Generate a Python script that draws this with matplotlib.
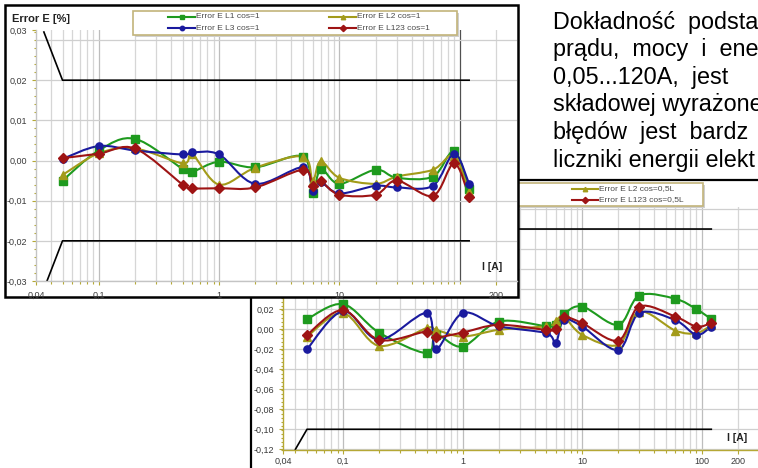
import numpy as np
import matplotlib.pyplot as plt
from matplotlib.path import Path
from matplotlib.patches import PathPatch, Rectangle
from matplotlib.lines import Line2D

plt.rcParams["font.family"] = ["Liberation Sans", "DejaVu Sans"]

W, H = 758, 468

# measurement currents [A]
current = [0.05, 0.1, 0.2, 0.5, 0.6, 1, 2, 5, 6, 7, 10, 20, 30, 60, 90, 120]

# energy error, cos=1
err_l1_cos1 = [-0.0050, 0.0025, 0.0054, -0.0021, -0.0028, -0.0003, -0.0017, 0.0010,
               -0.0082, -0.0021, -0.0058, -0.0023, -0.0043, -0.0040, 0.0023, -0.0070]
err_l2_cos1 = [-0.0036, 0.0018, 0.0030, -0.0007, 0.0015, -0.0060, -0.0018, 0.0010,
               -0.0050, -0.0002, -0.0043, -0.0058, -0.0040, -0.0023, 0.0012, -0.0079]
err_l3_cos1 = [0.0004, 0.0036, 0.0025, 0.0015, 0.0020, 0.0015, -0.0058, -0.0017,
               -0.0075, -0.0054, -0.0082, -0.0063, -0.0067, -0.0063, 0.0017, -0.0058]
err_l123_cos1 = [0.0006, 0.0017, 0.0030, -0.0060, -0.0069, -0.0069, -0.0067, -0.0023,
                 -0.0063, -0.0052, -0.0085, -0.0085, -0.0050, -0.0088, -0.0007, -0.0090]

# energy error, cos=0,5L
err_l1_cos05 = [0.010, 0.025, -0.0034, -0.024, -0.0057, -0.0174, 0.0076, 0.003,
                0.004, 0.015, 0.0226, 0.0043, 0.0336, 0.0303, 0.020, 0.010]
err_l2_cos05 = [-0.0074, 0.016, -0.0167, 0.001, -0.0007, -0.0074, -0.0007, 0.003,
                0.008, 0.0126, -0.0057, -0.0157, 0.0176, -0.0014, -0.004, 0.004]
err_l3_cos05 = [-0.020, 0.018, -0.0107, 0.016, -0.020, 0.016, 0.003, -0.004,
                -0.014, 0.0093, 0.0026, -0.0207, 0.016, 0.009, -0.0057, 0.0026]
err_l123_cos05 = [-0.0057, 0.019, -0.0107, -0.0024, -0.008, -0.0034, 0.0043, -0.0007,
                  0.0, 0.012, 0.006, -0.0114, 0.0226, 0.0126, 0.0026, 0.006]

# error limits (upper branch, lower is mirrored)
limit_i_cos1 = [0.035, 0.05, 120]
limit_e_cos1 = [0.032, 0.02, 0.02]
limit_i_cos05 = [0.04, 0.05, 120]
limit_e_cos05 = [0.12, 0.10, 0.10]

names_cos1 = ["Error E L1 cos=1", "Error E L2 cos=1",
              "Error E L3 cos=1", "Error E L123 cos=1"]
names_cos05 = ["Error E L1 cos=0,5L", "Error E L2 cos=0,5L",
               "Error E L3 cos=0,5L", "Error E L123 cos=0,5L"]

colors = ["#1e9a1e", "#a39b1a", "#1a1a9e", "#9e1414"]
markers = ["s", "^", "o", "D"]
msizes = [5.2, 5.5, 5.2, 5.0]

# description paragraph, as far as it fits on the page
text_lines = ["Dokładność  podsta", "prądu,  mocy  i  ene",
              "0,05...120A,  jest", "składowej wyrażone",
              "błędów  jest  bardz", "liczniki energii elekt"]


def px_box(x0, y0, x1, y1):
    return [x0 / W, 1 - y1 / H, (x1 - x0) / W, (y1 - y0) / H]


def fx(x):
    return x / W


def fy(y):
    return 1 - y / H


def smooth_path(x, y):
    # Catmull-Rom style bezier through the points, built in log-x space
    lx = np.log10(np.asarray(x, float))
    yy = np.asarray(y, float)
    pts = np.column_stack([lx, yy])
    n = len(pts)
    verts = [pts[0]]
    codes = [Path.MOVETO]
    for i in range(n - 1):
        p0 = pts[max(i - 1, 0)]
        p1 = pts[i]
        p2 = pts[i + 1]
        p3 = pts[min(i + 2, n - 1)]
        verts += [p1 + (p2 - p0) / 6, p2 - (p3 - p1) / 6, p2]
        codes += [Path.CURVE4] * 3
    verts = np.array(verts)
    verts[:, 0] = 10 ** verts[:, 0]
    return Path(verts, codes)


def grid_values(lo, hi):
    vals = []
    for d in range(-2, 3):
        for k in range(1, 10):
            v = k * 10.0 ** d
            if lo < v < hi:
                vals.append(v)
    return vals


def setup_axes(ax, xlim, ylim, ystep, xticks, xlabels, yticks, ylabels,
               spine_color, dark_100):
    ax.set_xscale("log")
    ax.set_xlim(*xlim)
    ax.set_ylim(*ylim)
    for v in grid_values(*xlim):
        decade = abs(np.log10(v) - round(np.log10(v))) < 1e-9
        c = "#bdbdbd" if decade else "#d6d6d6"
        if dark_100 and abs(v - 100) < 1e-6:
            c = "#505050"
        ax.axvline(v, color=c, lw=0.9, zorder=0.5)
    for v in np.arange(-0.2, 0.2, ystep):
        if ylim[0] < v < ylim[1]:
            ax.axhline(v, color="#cfcfcf", lw=0.9, zorder=0.5)
    ax.set_xticks(xticks, xlabels)
    ax.set_xticks(grid_values(*xlim), minor=True)
    ax.xaxis.set_minor_formatter(plt.NullFormatter())
    ax.set_yticks(yticks, ylabels)
    ax.set_yticks(np.arange(ylim[0], ylim[1], ystep / 5), minor=True)
    ax.tick_params(which="both", labelsize=6.5, labelcolor="#3a3a3a",
                   color="#b5a835", width=0.8)
    ax.tick_params(which="major", length=3)
    ax.tick_params(which="minor", length=1.8)
    for side in ["top", "right"]:
        ax.spines[side].set_visible(False)
    for side in ["left", "bottom"]:
        ax.spines[side].set_color(spine_color)
        ax.spines[side].set_linewidth(1.0)
    ax.patch.set_alpha(0)


def draw_series(ax, series):
    for err, c, m, ms in zip(series, colors, markers, msizes):
        ax.add_patch(PathPatch(smooth_path(current, err), fill=False,
                               edgecolor=c, lw=1.5, zorder=2))
        ax.plot(current, err, ls="none", marker=m, ms=ms, color=c,
                mec=c, zorder=3)


def draw_limits(ax, li, le):
    ax.plot(li, le, color="black", lw=1.2, zorder=1.5)
    ax.plot(li, [-v for v in le], color="black", lw=1.2, zorder=1.5)


def draw_key(fig, box, rows, cols, names, zorder):
    x0, y0, x1, y1 = box
    fig.add_artist(Rectangle((fx(x0 + 2), fy(y1 + 2)), (x1 - x0) / W, (y1 - y0) / H,
                             transform=fig.transFigure, facecolor="#cfcfcf",
                             edgecolor="none", zorder=zorder))
    fig.add_artist(Rectangle((fx(x0), fy(y1)), (x1 - x0) / W, (y1 - y0) / H,
                             transform=fig.transFigure, facecolor="white",
                             edgecolor="#c2b47a", lw=1.2, zorder=zorder + 0.01))
    # (column, row) of the entries L1, L2, L3, L123
    order = [(0, 0), (1, 0), (0, 1), (1, 1)]
    for (ci, ri), name, c, m in zip(order, names, colors, markers):
        hx0, hx1 = cols[ci]
        yy = rows[ri]
        fig.add_artist(Line2D([fx(hx0), fx(hx1)], [fy(yy), fy(yy)],
                              transform=fig.transFigure, color=c, lw=1.5,
                              zorder=zorder + 0.02))
        fig.add_artist(Line2D([fx((hx0 + hx1) / 2)], [fy(yy)], marker=m, ms=3.2,
                              color=c, transform=fig.transFigure,
                              zorder=zorder + 0.03))
        fig.text(fx(hx1 + 1), fy(yy), name, fontsize=6, color="#4a4a4a",
                 va="center", ha="left", zorder=zorder + 0.04)


fig = plt.figure(figsize=(W / 100, H / 100), dpi=100)

# ---- chart for cos=0,5L (behind) ----
fig.add_artist(Rectangle((fx(251), fy(472)), 513 / W, 292 / H,
                         transform=fig.transFigure, facecolor="white",
                         edgecolor="black", lw=1.6, zorder=0.2))
ax2 = fig.add_axes(px_box(283, 207, 764, 450), zorder=1)
x2min = 0.0315
setup_axes(ax2, (x2min, 331), (-0.1207, 0.122), 0.02,
           [x2min, 0.1, 1, 10, 100, 200], ["0,04", "0,1", "1", "10", "100", "200"],
           [-0.12, -0.10, -0.08, -0.06, -0.04, -0.02, 0.0, 0.02],
           ["-0,12", "-0,10", "-0,08", "-0,06", "-0,04", "-0,02", "0,00", "0,02"],
           "#b5a835", False)
ax2.tick_params(axis="x", pad=2)
draw_limits(ax2, limit_i_cos05, limit_e_cos05)
draw_series(ax2, [err_l1_cos05, err_l2_cos05, err_l3_cos05, err_l123_cos05])
fig.text(fx(737), fy(438), "I [A]", fontsize=7.5, fontweight="bold",
         color="#222222", ha="center", va="center", zorder=1.2)
draw_key(fig, (379, 183, 703, 206), (189, 200), ((414, 441), (572, 598)),
         names_cos05, 1.5)

# ---- chart for cos=1 (front) ----
fig.add_artist(Rectangle((fx(5), fy(297)), 513 / W, 292 / H,
                         transform=fig.transFigure, facecolor="white",
                         edgecolor="black", lw=1.8, zorder=2))
ax1 = fig.add_axes(px_box(36, 30, 517, 281), zorder=3)
x1min = 0.0301
setup_axes(ax1, (x1min, 300), (-0.03, 0.0325), 0.01,
           [x1min, 0.1, 1, 10, 200], ["0,04", "0,1", "1", "10", "200"],
           [-0.03, -0.02, -0.01, 0.0, 0.01, 0.02, 0.0325],
           ["-0,03", "-0,02", "-0,01", "0,00", "0,01", "0,02", "0,03"],
           "#c4c4c4", True)
ax1.tick_params(axis="x", pad=4)
draw_limits(ax1, limit_i_cos1, limit_e_cos1)
draw_series(ax1, [err_l1_cos1, err_l2_cos1, err_l3_cos1, err_l123_cos1])
fig.text(fx(12), fy(19), "Error E [%]", fontsize=8, fontweight="bold",
         color="#222222", ha="left", va="center", zorder=4)
fig.text(fx(492), fy(267), "I [A]", fontsize=7.5, fontweight="bold",
         color="#222222", ha="center", va="center", zorder=4)
draw_key(fig, (133, 11, 457, 35), (16.7, 28.3), ((168, 195), (329, 356)),
         names_cos1, 4)

# ---- description text ----
for i, line in enumerate(text_lines):
    fig.text(fx(553), fy(22 + i * 27.6), line, fontsize=16.8, color="black",
             ha="left", va="center", zorder=5)

fig.savefig("out.png", dpi=100)
